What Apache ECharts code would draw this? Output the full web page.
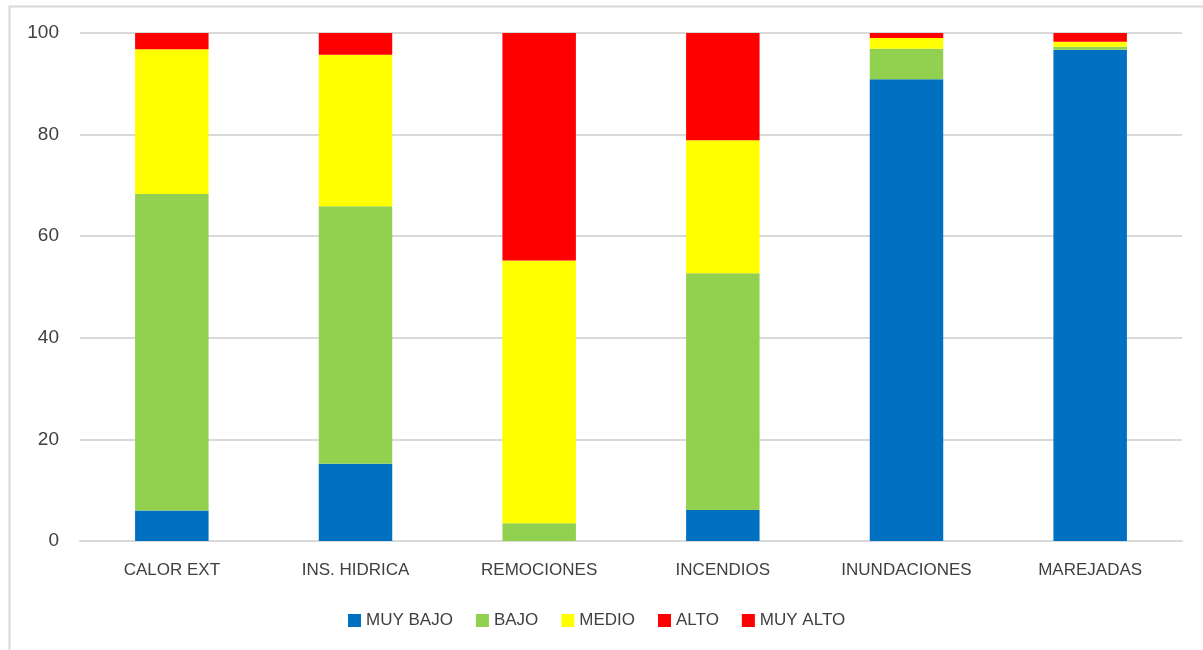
<!DOCTYPE html>
<html>
<head>
<meta charset="utf-8">
<script src="https://cdn.jsdelivr.net/npm/echarts@6/dist/echarts.min.js"></script>
<style>
  html, body { margin: 0; padding: 0; background: #ffffff; }
  #chart { width: 1203px; height: 650px; }
</style>
</head>
<body>
<div id="chart"></div>
<script>
// Hazard categories and share (%) of each risk level
const categories = ['CALOR EXT', 'INS. HIDRICA', 'REMOCIONES', 'INCENDIOS', 'INUNDACIONES', 'MAREJADAS'];
const muyBajo = [6.0, 15.2, 0.0, 6.1, 90.9, 96.7];
const bajo    = [62.3, 50.7, 3.5, 46.6, 6.0, 0.6];
const medio   = [28.5, 29.8, 51.7, 26.2, 2.1, 1.0];
const alto    = [3.2, 4.3, 44.8, 21.1, 1.0, 1.7];
const muyAlto = [0, 0, 0, 0, 0, 0];
const yTicks  = [0, 20, 40, 60, 80, 100];

const levels = [
  { name: 'MUY BAJO', data: muyBajo, color: '#0070C0' },
  { name: 'BAJO',     data: bajo,    color: '#92D050' },
  { name: 'MEDIO',    data: medio,   color: '#FFFF00' },
  { name: 'ALTO',     data: alto,    color: '#FF0000' },
  { name: 'MUY ALTO', data: muyAlto, color: '#FF0000' }
];

const textColor = '#404040';
const font = 'Liberation Sans, Arial, sans-serif';

const chart = echarts.init(document.getElementById('chart'), null, { renderer: 'canvas' });
chart.setOption({
  animation: false,
  backgroundColor: '#ffffff',
  graphic: [{
    type: 'rect',
    left: 7, top: 4,
    shape: { width: 1300, height: 700 },
    style: { fill: 'none', stroke: '#d9d9d9', lineWidth: 2 },
    silent: true
  }],
  grid: { left: 80, right: 21, top: 33, bottom: 109, containLabel: false },
  legend: {
    left: 343, top: 607,
    itemWidth: 13, itemHeight: 13, itemGap: 23,
    icon: 'rect',
    textStyle: { color: textColor, fontSize: 17, fontFamily: font },
    data: levels.map(l => l.name)
  },
  xAxis: {
    type: 'category',
    data: categories,
    axisTick: { show: false },
    axisLine: { lineStyle: { color: '#d9d9d9', width: 2 } },
    axisLabel: { color: textColor, fontSize: 17, fontFamily: font, margin: 21 }
  },
  yAxis: {
    type: 'value',
    min: yTicks[0], max: yTicks[yTicks.length - 1], interval: yTicks[1] - yTicks[0],
    axisLine: { show: false },
    axisTick: { show: false },
    splitLine: { lineStyle: { color: '#d9d9d9', width: 2 } },
    axisLabel: { color: textColor, fontSize: 19, fontFamily: font, margin: 21 }
  },
  series: levels.map(l => ({
    name: l.name,
    type: 'bar',
    stack: 'total',
    barWidth: '40%',
    data: l.data,
    itemStyle: { color: l.color }
  }))
});
</script>
</body>
</html>
